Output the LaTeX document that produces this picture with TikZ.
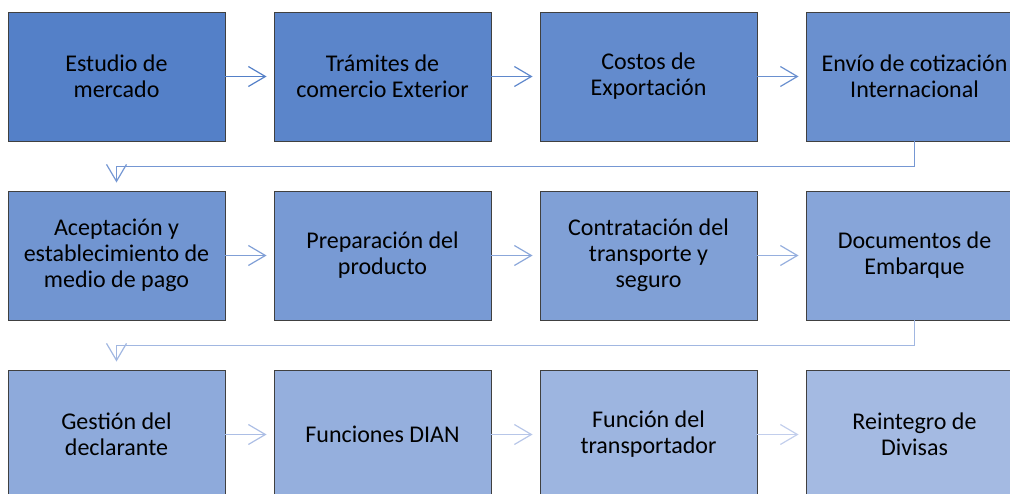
\documentclass[tikz,border=0pt]{standalone}
\usepackage{fontspec}
\setmainfont{Carlito}
\usetikzlibrary{arrows.meta}
\definecolor{c1}{RGB}{84,128,200}
\definecolor{c2}{RGB}{91,133,202}
\definecolor{c3}{RGB}{99,139,205}
\definecolor{c4}{RGB}{106,144,207}
\definecolor{c5}{RGB}{113,149,209}
\definecolor{c6}{RGB}{120,154,212}
\definecolor{c7}{RGB}{128,160,214}
\definecolor{c8}{RGB}{135,165,217}
\definecolor{c9}{RGB}{142,170,219}
\definecolor{c10}{RGB}{149,175,221}
\definecolor{c11}{RGB}{157,181,224}
\definecolor{c12}{RGB}{164,186,226}
\definecolor{a1}{RGB}{84,128,200}
\definecolor{a2}{RGB}{95,136,204}
\definecolor{a3}{RGB}{106,144,207}
\definecolor{a4}{RGB}{117,151,211}
\definecolor{a5}{RGB}{128,159,214}
\definecolor{a6}{RGB}{139,167,218}
\definecolor{a7}{RGB}{150,175,222}
\definecolor{a8}{RGB}{161,183,225}
\definecolor{a9}{RGB}{172,190,229}
\definecolor{a10}{RGB}{183,198,232}
\definecolor{a11}{RGB}{194,206,236}
\tikzset{
  stepbox/.style={draw=black!75, line width=0.9pt, minimum width=217pt, minimum height=129pt,
    inner sep=0pt, align=center, font=\fontsize{24}{26}\selectfont, text=black},
  conn/.style={line width=1.2pt, -{Straight Barb[length=17pt,width=20pt,line width=1.2pt]}, shorten >=7pt},
  bendconn/.style={line width=1.2pt, -{Straight Barb[length=17pt,width=20pt,line width=1.2pt]}, shorten >=8pt}
}
\begin{document}
\begin{tikzpicture}[x=1pt,y=-1pt]
\useasboundingbox (0,0) rectangle (1010,493);
\node[stepbox, fill=c1] (b1) at (116.5,76.5) {Estudio de\\mercado};
\node[stepbox, fill=c2] (b2) at (382.5,76.5) {Trámites de\\comercio Exterior};
\node[stepbox, fill=c3] (b3) at (648.5,76.5) {Costos de\\Exportación};
\node[stepbox, fill=c4] (b4) at (914.5,76.5) {Envío de cotización\\Internacional};
\node[stepbox, fill=c5] (b5) at (116.5,255.5) {Aceptación y\\establecimiento de\\medio de pago};
\node[stepbox, fill=c6] (b6) at (382.5,255.5) {Preparación del\\producto};
\node[stepbox, fill=c7] (b7) at (648.5,255.5) {Contratación del\\transporte y\\seguro};
\node[stepbox, fill=c8] (b8) at (914.5,255.5) {Documentos de\\Embarque};
\node[stepbox, fill=c9] (b9) at (116.5,434.5) {Gestión del\\declarante};
\node[stepbox, fill=c10] (b10) at (382.5,434.5) {Funciones DIAN};
\node[stepbox, fill=c11] (b11) at (648.5,434.5) {Función del\\transportador};
\node[stepbox, fill=c12] (b12) at (914.5,434.5) {Reintegro de\\Divisas};
\draw[conn, draw=a1] (b1) -- (b2);
\draw[conn, draw=a2] (b2) -- (b3);
\draw[conn, draw=a3] (b3) -- (b4);
\draw[bendconn, draw=a4] (b4.south) -- ++(0,25) -| (b5.north);
\draw[conn, draw=a5] (b5) -- (b6);
\draw[conn, draw=a6] (b6) -- (b7);
\draw[conn, draw=a7] (b7) -- (b8);
\draw[bendconn, draw=a8] (b8.south) -- ++(0,25) -| (b9.north);
\draw[conn, draw=a9] (b9) -- (b10);
\draw[conn, draw=a10] (b10) -- (b11);
\draw[conn, draw=a11] (b11) -- (b12);
\end{tikzpicture}
\end{document}
